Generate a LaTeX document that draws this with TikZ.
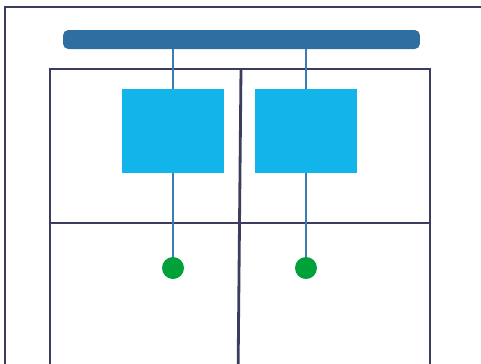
\documentclass[tikz,border=0pt]{standalone}
\usetikzlibrary{positioning}
\definecolor{gridc}{HTML}{3A3E5C}
\definecolor{barc}{HTML}{2F6EA0}
\definecolor{linkc}{HTML}{3B7CB5}
\definecolor{boxc}{HTML}{12B5EA}
\definecolor{dotc}{HTML}{00A13B}
\begin{document}
\begin{tikzpicture}[x=0.02cm,y=-0.02cm]
  \tikzset{
    gridline/.style={draw=gridc, line width=1.6pt},
    link/.style={draw=linkc, line width=1.2pt},
    unitbox/.style={rectangle, fill=boxc, minimum width=2.04cm, minimum height=1.68cm, inner sep=0pt},
    enddot/.style={circle, fill=dotc, minimum size=0.44cm, inner sep=0pt}
  }
  \useasboundingbox (0,0) rectangle (481,363);
  \clip (0,0) rectangle (481,363);
  % Rahmen und Raster
  \draw[gridline] (5,7) rectangle (495,380);
  \draw[gridline] (50,380) -- (50,69) -- (430,69) -- (430,380);
  \draw[gridline] (50,223) -- (430,223);
  \draw[gridline] (241,69) -- (238,380);
  % Schiene oben
  \node[rectangle, fill=barc, rounded corners=3pt, minimum width=7.14cm, minimum height=0.38cm, inner sep=0pt] (bar) at (241.5,39.5) {};
  % Kaesten und Punkte
  \node[unitbox] (sq1) at (173,131) {};
  \node[unitbox] (sq2) at (306,131) {};
  \node[enddot] (dot1) at (173,268) {};
  \node[enddot] (dot2) at (306,268) {};
  \draw[link] (bar.south -| sq1.north) -- (sq1.north);
  \draw[link] (bar.south -| sq2.north) -- (sq2.north);
  \draw[link] (sq1.south) -- (dot1);
  \draw[link] (sq2.south) -- (dot2);
\end{tikzpicture}
\end{document}
